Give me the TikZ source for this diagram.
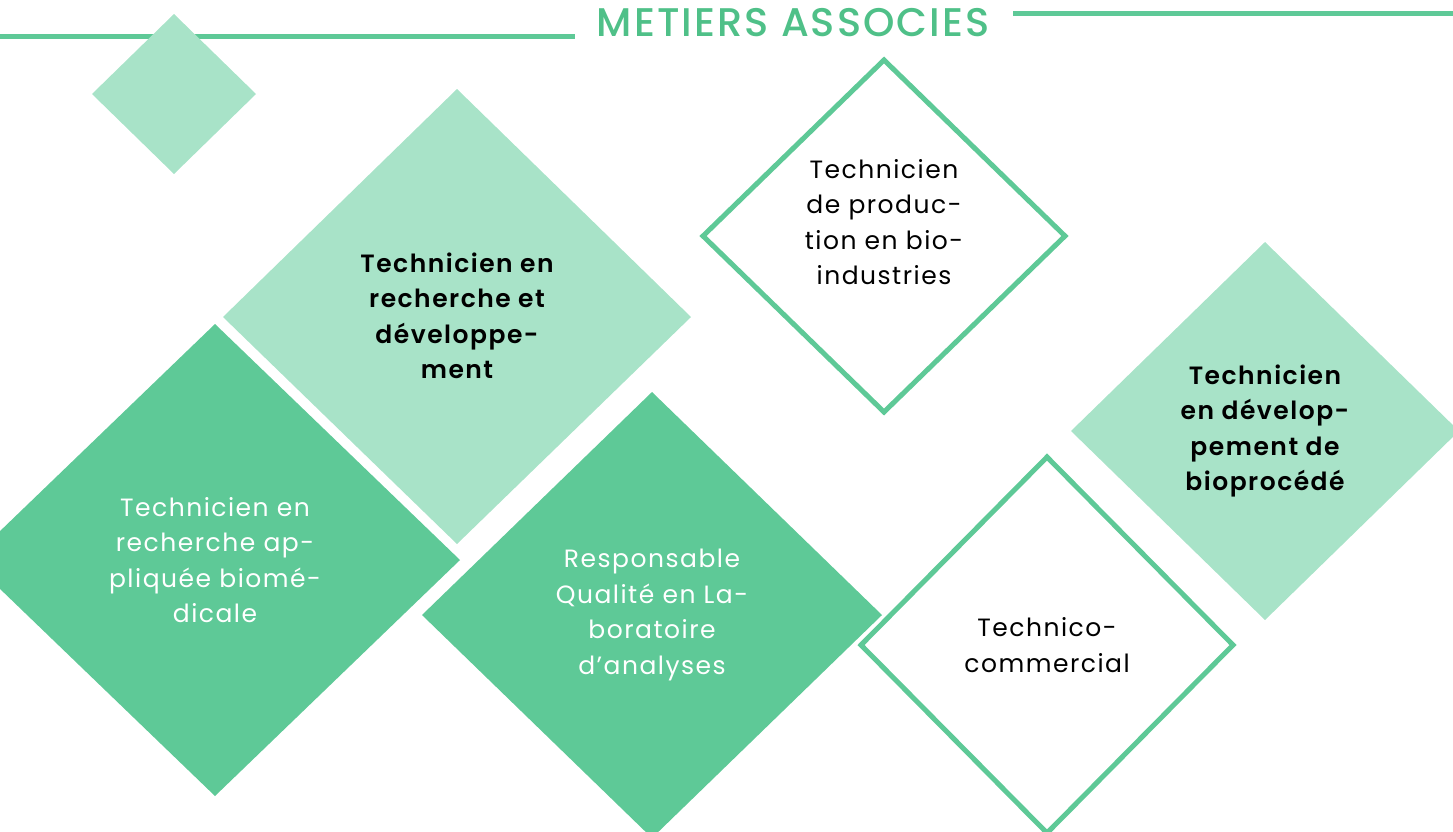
\documentclass[tikz,border=0pt]{standalone}
\usepackage{fontspec}
\setmainfont{Poppins}[LetterSpace=6, BoldFont={Poppins SemiBold}]
\newfontfamily\titlefont{Poppins Medium}[LetterSpace=5]
\definecolor{darkg}{HTML}{5EC997}
\definecolor{lightg}{HTML}{A8E3C8}
\definecolor{titleg}{HTML}{4FC088}
\tikzset{
  lbl/.style={align=center, font=\fontsize{25}{35.5}\selectfont, inner sep=0pt},
  lblw/.style={lbl, text=white},
  lblb/.style={lbl, text=black, font=\fontsize{25}{35.5}\selectfont\bfseries},
  rule/.style={draw=darkg, line width=5pt},
  outl/.style={draw=darkg, line width=5pt, fill=white, line join=miter},
}
\begin{document}
\begin{tikzpicture}[x=1pt,y=-1pt]
\useasboundingbox (0,0) rectangle (1453,831);
\clip (0,0) rectangle (1453,831);
% title rules
\coordinate (l0) at (0,36);
\coordinate (l1) at (575,36);
\coordinate (r0) at (1013,13.5);
\coordinate (r1) at (1453,13.5);
\draw[rule] (l0) -- (l1);
\draw[rule] (r0) -- (r1);
\node[text=titleg, font=\titlefont\fontsize{40}{44}\selectfont, inner sep=0pt] (title) at (793,23) {METIERS ASSOCIES};
% small diamond
\fill[lightg] (174,14) -- (256,94) -- (174,174) -- (92,94) -- cycle;
% big light diamond
\fill[lightg] (457,89) -- (691,317) -- (457,544) -- (223,317) -- cycle;
\node[lblb] (n1) at (457,316) {Technicien en\\recherche et\\développe-\\ment};
% dark left
\fill[darkg] (215,324) -- (460,560) -- (215,796) -- (-30,560) -- cycle;
\node[lblw] (n2) at (215,560) {Technicien en\\recherche ap-\\pliquée biomé-\\dicale};
% dark center
\fill[darkg] (652,392) -- (882,615) -- (652,838) -- (422,615) -- cycle;
\node[lblw] (n3) at (652,615) {Responsable\\Qualité en La-\\boratoire\\d’analyses};
% outline top
\draw[outl] (884,60) -- (1065,236) -- (884,412) -- (703,236) -- cycle;
\node[lbl] (n4) at (884,222) {Technicien\\de produc-\\tion en bio-\\industries};
% right light
\fill[lightg] (1265,242) -- (1459,431) -- (1265,620) -- (1071,431) -- cycle;
\node[lblb] (n5) at (1265,431) {Technicien\\en dévelop-\\pement de\\bioprocédé};
% outline bottom
\draw[outl] (1047,457) -- (1233,645) -- (1047,833) -- (861,645) -- cycle;
\node[lbl] (n6) at (1047,645) {Technico-\\commercial};
\end{tikzpicture}
\end{document}
